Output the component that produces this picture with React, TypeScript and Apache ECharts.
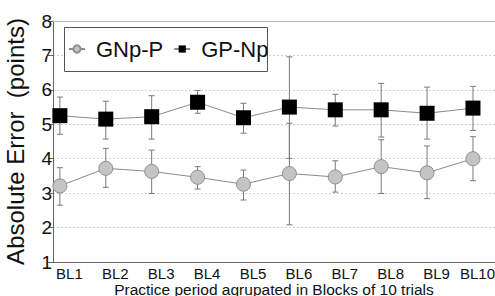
import React, { useEffect, useRef } from "react";
import * as echarts from "echarts";

const blocks = ["BL1", "BL2", "BL3", "BL4", "BL5", "BL6", "BL7", "BL8", "BL9", "BL10"];
const blockIndex = [1, 2, 3, 4, 5, 6, 7, 8, 9, 10];

const gnpMean = [3.21, 3.72, 3.63, 3.46, 3.26, 3.57, 3.47, 3.77, 3.59, 4.0];
const gnpHigh = [3.74, 4.3, 4.25, 3.77, 3.67, 5.03, 3.94, 4.55, 4.37, 4.64];
const gnpLow = [2.65, 3.17, 2.99, 3.12, 2.8, 2.08, 3.03, 2.99, 2.84, 3.36];

const gpMean = [5.25, 5.15, 5.22, 5.64, 5.19, 5.5, 5.42, 5.42, 5.32, 5.47];
const gpHigh = [5.79, 5.67, 5.83, 5.98, 5.61, 6.96, 5.87, 6.19, 6.08, 6.1];
const gpLow = [4.71, 4.57, 4.57, 5.32, 4.74, 4.01, 4.95, 4.63, 4.57, 4.82];

const yTicks = [1, 2, 3, 4, 5, 6, 7, 8];

const FONT = "Liberation Sans, Arial, sans-serif";

function errorSeries(name: string, low: number[], high: number[]) {
  return {
    type: "custom",
    name: name + "-err",
    silent: true,
    z: 1,
    data: blockIndex.map((x, i) => [x, low[i], high[i]]),
    renderItem: (params: any, api: any) => {
      const x = api.value(0);
      const lo = api.coord([x, api.value(1)]);
      const hi = api.coord([x, api.value(2)]);
      const cap = 3;
      const style = { stroke: "#7a7a7a", lineWidth: 1 };
      return {
        type: "group",
        children: [
          { type: "line", shape: { x1: lo[0], y1: lo[1], x2: hi[0], y2: hi[1] }, style },
          { type: "line", shape: { x1: hi[0] - cap, y1: hi[1], x2: hi[0] + cap, y2: hi[1] }, style },
          { type: "line", shape: { x1: lo[0] - cap, y1: lo[1], x2: lo[0] + cap, y2: lo[1] }, style },
        ],
      };
    },
  };
}

export default function App() {
  const ref = useRef<HTMLDivElement>(null);
  useEffect(() => {
    if (!ref.current) return;
    const chart = echarts.init(ref.current, undefined, { renderer: "svg" });
    chart.setOption({
      animation: false,
      backgroundColor: "#ffffff",
      textStyle: { fontFamily: FONT },
      grid: { left: 53, top: 21, right: 0, bottom: 34, containLabel: false, outerBoundsMode: "none" },
      graphic: [
        {
          type: "rect",
          left: 64,
          top: 27,
          z: 50,
          shape: { width: 203, height: 44 },
          style: { fill: "#ffffff", stroke: "#555555", lineWidth: 1 },
        },
      ],
      legend: {
        data: ["GNp-P", "GP-Np"],
        left: 68,
        top: 38,
        z: 60,
        orient: "horizontal",
        padding: 0,
        itemGap: 10,
        itemWidth: 16,
        itemHeight: 9,
        textStyle: {
          fontFamily: FONT,
          fontSize: 22,
          lineHeight: 22,
          color: "#111111",
          padding: [0, 0, 0, 6],
        },
      },
      xAxis: [
        {
          type: "value",
          min: 0.85,
          max: 10.48,
          axisLine: { show: true, lineStyle: { color: "#666666", width: 1 } },
          axisTick: { show: false },
          splitLine: { show: false },
          axisLabel: {
            customValues: blockIndex,
            formatter: (v: number) => {
              const i = Math.round(v) - 1;
              const t = blocks[i] ?? "";
              return i === blocks.length - 1 ? "{l|" + t + "}" : "{n|" + t + "}";
            },
            fontSize: 15,
            color: "#111111",
            margin: 4,
            fontFamily: FONT,
            rich: {
              n: { fontSize: 15, fontFamily: FONT, color: "#111111", padding: [0, 0, 0, 19] },
              l: { fontSize: 15, fontFamily: FONT, color: "#111111", padding: [0, 0, 0, 9] },
            },
          },
          name: "Practice period agrupated in Blocks of 10 trials",
          nameLocation: "middle",
          nameGap: 19,
          nameMoveOverlap: false,
          nameTextStyle: { fontSize: 15.5, color: "#111111", fontFamily: FONT },
        },
        {
          type: "value",
          position: "top",
          min: 0.85,
          max: 10.48,
          axisLine: { show: true, lineStyle: { color: "#bbbbbb", width: 1 } },
          axisTick: { show: false },
          axisLabel: { show: false },
          splitLine: { show: false },
        },
      ],
      yAxis: {
        type: "value",
        min: 1,
        max: 8,
        interval: 1,
        axisLine: { show: true, lineStyle: { color: "#666666", width: 1 } },
        axisTick: { show: true, length: 5, lineStyle: { color: "#666666" } },
        axisLabel: {
          customValues: yTicks,
          fontSize: 19,
          color: "#111111",
          margin: 1,
          fontFamily: FONT,
        },
        splitLine: { show: true, lineStyle: { color: "#cfcfcf", type: [2, 2], width: 1 } },
        name: "Absolute Error  (points)",
        nameLocation: "middle",
        nameGap: 26,
        nameMoveOverlap: false,
        nameTextStyle: { fontSize: 24, color: "#111111", fontFamily: FONT },
      },
      series: [
        errorSeries("GNp-P", gnpLow, gnpHigh),
        errorSeries("GP-Np", gpLow, gpHigh),
        {
          type: "line",
          name: "GNp-P",
          z: 3,
          data: blockIndex.map((x, i) => [x, gnpMean[i]]),
          symbol: "circle",
          symbolSize: 14,
          lineStyle: { color: "#8a8a8a", width: 1 },
          itemStyle: { color: "#c4c4c4", borderColor: "#8f8f8f", borderWidth: 1 },
        },
        {
          type: "line",
          name: "GP-Np",
          z: 3,
          data: blockIndex.map((x, i) => [x, gpMean[i]]),
          symbol: "rect",
          symbolSize: 15,
          lineStyle: { color: "#8a8a8a", width: 1 },
          itemStyle: { color: "#000000", borderColor: "#000000", borderWidth: 0 },
        },
      ],
    });
    return () => chart.dispose();
  }, []);
  return <div ref={ref} style={{ width: 495, height: 296, position: "absolute", left: 0, top: 0 }} />;
}
